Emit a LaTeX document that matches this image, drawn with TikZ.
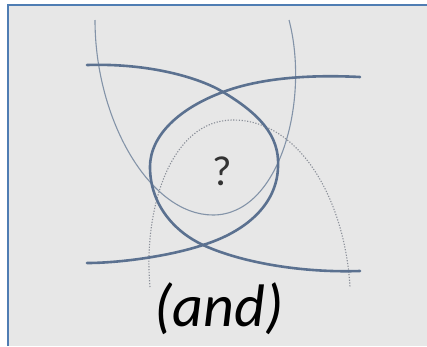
\documentclass[tikz,border=0pt]{standalone}
\usepackage{fontspec}
\setmainfont{Carlito}
\begin{document}
\begin{tikzpicture}[x=1pt,y=-1pt,
  thick curve/.style={draw=curveblue,line width=2.6pt,line cap=round},
  thin curve/.style={draw=thingray,line width=1.1pt},
  dot curve/.style={draw=dotgray,line width=1.1pt,dash pattern=on 1.2pt off 1.6pt},
  txt/.style={inner sep=0pt,text=black}]
\definecolor{curveblue}{HTML}{5B7190}
\definecolor{thingray}{HTML}{8393A8}
\definecolor{dotgray}{HTML}{8A8F98}
\definecolor{bg}{HTML}{E7E7E7}
\definecolor{frame}{HTML}{4F7DB3}
\useasboundingbox (0,0) rectangle (427,346);
\fill[white] (0,0) rectangle (427,346);
\fill[bg] (8,5) rectangle (427,346);
\draw[frame,line width=2pt] (8,346) -- (8,5) -- (427,5);
% thin U-shaped curve
\draw[thin curve] (95,20) .. controls (95,120) and (150,215) .. (213,215)
  .. controls (280,215) and (310,100) .. (289,20);
% dotted curve
\draw[dot curve] (150,287) .. controls (143,210) and (170,120) .. (233,120)
  .. controls (300,120) and (345,200) .. (350,287);
% thick curve A
\draw[thick curve] (87,65) .. controls (150,63) and (200,78) .. (223,92)
  .. controls (258,113) and (280,135) .. (278,167)
  .. controls (277,205) and (245,232) .. (203,245)
  .. controls (170,256) and (120,263) .. (87,263);
% thick curve B
\draw[thick curve] (360,77) .. controls (300,74) and (255,80) .. (223,92)
  .. controls (180,108) and (150,135) .. (150,167)
  .. controls (150,205) and (175,232) .. (203,245)
  .. controls (240,262) and (300,273) .. (360,271);
\node[txt,text=black!80,font=\fontsize{42}{44}\selectfont] (q) at (222,171) {?};
\node[txt,font=\fontsize{60}{62}\selectfont\itshape] (and) at (219,309) {(and)};
\end{tikzpicture}
\end{document}
